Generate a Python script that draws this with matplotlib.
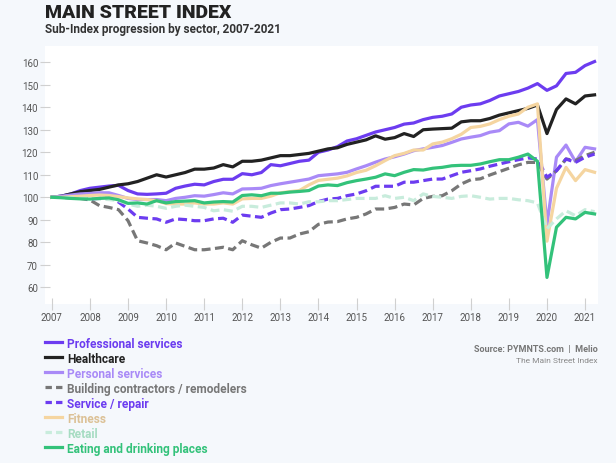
import pandas as pd
import matplotlib
matplotlib.use("Agg")
import matplotlib.pyplot as plt
from matplotlib.lines import Line2D

plt.rcParams['font.family'] = ['Roboto', 'DejaVu Sans']

# quarterly points, 2007 Q1 .. 2021 Q2
quarters = pd.period_range('2007Q1', '2021Q2', freq='Q')

professional = [100, 100.5, 101.5, 103, 104, 104.5, 105, 105.3, 103, 101.5, 101.3, 101.5,
                101.8, 104, 105, 105.8, 105.5, 107, 108, 108, 110.5, 110, 111, 114.5,
                114, 115, 116, 116.5, 120, 121, 122.5, 125, 126, 127.5, 129, 130,
                131, 132.5, 133, 134.5, 135.5, 136, 137, 140, 141, 141.5, 143, 145,
                146, 147, 148.5, 150.5, 147.5, 149.5, 155, 155.5, 158.5, 160.3]
healthcare = [100, 100.5, 101.5, 102.5, 103, 103.5, 104.5, 105.5, 106, 107, 108.5, 110,
              109, 110, 111, 112.5, 112.5, 113, 114.5, 113.5, 116, 116, 116.5, 117.5,
              118.5, 118.5, 119, 119.5, 120.5, 121.5, 122, 123.5, 124.5, 125.5, 127.3, 125.8,
              126.5, 128.3, 127, 130, 130.3, 130.5, 130.7, 133.5, 134, 134, 135, 136.5,
              137.5, 138.5, 139.5, 141, 128.3, 139, 143.7, 141.5, 145, 145.5]
personal = [100, 100.5, 101, 101.5, 101.7, 102, 102, 100.8, 99.5, 99, 99, 99,
            98.5, 99.5, 100, 100.7, 100.5, 101.2, 102, 101.5, 103.7, 103.8, 104, 105.2,
            106, 106.7, 107.4, 108.1, 109.6, 110, 110.4, 111.1, 112.6, 114, 115.6, 117,
            118, 119.2, 120.7, 121.5, 122.2, 123, 124.4, 125.9, 126.7, 127.4, 128.9, 129.6,
            132.6, 133.3, 131.6, 134.5, 88, 117.8, 123.2, 115.8, 122.2, 121.5]
building = [100, 100, 99.7, 99.5, 98.8, 96.3, 95.5, 94.5, 89.6, 80.7, 79.7, 78.5,
            76.7, 79.7, 78.2, 76.7, 76.7, 77.2, 77.8, 76.7, 80.7, 78.9, 77.4, 80,
            81.9, 81.9, 83.7, 84.7, 88, 89, 89.2, 90.4, 91.1, 92.6, 94.8, 94.8,
            95.5, 97, 96.6, 99.5, 100.4, 100.7, 102.9, 105.9, 107.8, 108.2, 109.9, 111.4,
            112.9, 114.4, 115.5, 115.5, 108.1, 111.8, 117, 116.3, 118.5, 120]
service = [100, 100, 100, 99.7, 99.2, 99.5, 100, 97.9, 94.8, 91.1, 90.7, 90.4,
           88.9, 90.4, 90.1, 89.6, 89.6, 90.4, 90.7, 88.9, 92.1, 91.6, 91.1, 93,
           94.5, 94.8, 95.5, 96.3, 98.1, 99.2, 99.5, 100.7, 101.5, 102.9, 104.9, 104.9,
           104.9, 106.7, 106.7, 107.4, 108.1, 108.1, 109.6, 111.1, 111.8, 112.6, 113.8, 114.8,
           115.8, 116.7, 117.5, 117, 108.9, 111.8, 117, 115.5, 117.8, 119.2]
fitness = [100, 100, 100.3, 100.5, 100.8, 101, 100.8, 100.3, 99.7, 99.3, 99, 98.5,
           97.2, 97, 97, 97.5, 97, 97, 97.5, 97, 99.3, 99.5, 99.5, 100.5,
           102, 102.5, 103, 105.5, 107.5, 108, 108.5, 109.5, 111, 112, 114, 116.3,
           118.5, 119.5, 121, 121, 123.7, 124.5, 126, 128, 131, 131.5, 132.6, 134.5,
           136, 137, 140, 141.5, 80.5, 104, 113.3, 107.4, 112.3, 111.1]
retail = [100, 100, 99.8, 99.5, 99.5, 99.2, 99, 98.5, 97, 96, 96.5, 96,
          95.1, 96, 96.5, 96, 95.5, 94, 94.5, 93.8, 96, 96, 95.5, 96.5,
          97.5, 97.5, 97, 98, 98, 98.5, 98.5, 99, 99.5, 99.5, 99.5, 100.7,
          99.5, 100, 98.5, 101.5, 100.4, 100, 99.5, 100.4, 100.7, 100, 99.2, 99.5,
          99.5, 98.9, 98.5, 97.5, 86, 90.4, 94, 91.8, 94.5, 93.6]
eating = [100, 99.8, 99.5, 99.3, 99.2, 99.5, 99.7, 98.9, 97.3, 97.5, 97, 98.5,
          97.5, 98.1, 98.3, 98.5, 97.5, 97.9, 98.1, 97.9, 100.8, 101.1, 100.7, 101.8,
          101.8, 102.3, 102.6, 103, 105, 105.5, 105.2, 106.5, 107.4, 108.1, 108.9, 110.4,
          109.6, 111.1, 112.3, 112.1, 112.9, 113.3, 114, 114.2, 114.2, 114.8, 115.8, 116.7,
          116.7, 117.8, 119.2, 116, 64.4, 86.7, 91.1, 90.4, 93.3, 92.6]

series = [
    ("Professional services", professional, '#6c3cf0', '-', '#6c3cf0'),
    ("Healthcare", healthcare, '#222222', '-', '#222222'),
    ("Personal services", personal, '#a98af7', '-', '#a98af7'),
    ("Building contractors / remodelers", building, '#777777', '--', '#777777'),
    ("Service / repair", service, '#6c3cf0', '--', '#6c3cf0'),
    ("Fitness", fitness, '#f5d5a0', '-', '#dcc196'),
    ("Retail", retail, '#c8ecdc', '--', '#a6dcc2'),
    ("Eating and drinking places", eating, '#33c27a', '-', '#33c27a'),
]

x = quarters.year + (quarters.quarter - 1) / 4

fig = plt.figure(figsize=(6.16, 4.64), dpi=100, facecolor='#f5f8fc')
ax = fig.add_axes([45/616, 1 - 305/464, (598 - 45)/616, (305 - 47)/464])
ax.set_facecolor('white')

for name, vals, col, ls, tcol in series:
    dash = (0, (2.8, 1.4)) if ls == '--' else '-'
    ax.plot(x, vals, color=col, lw=2.3, linestyle=dash, label=name)

ax.set_xlim(2006.82, 2021.34)
ax.set_ylim(52.6, 167.2)
ax.set_xticks(range(2007, 2022))
ax.set_yticks(range(60, 170, 10))
for s in ax.spines.values():
    s.set_visible(False)
ax.tick_params(axis='x', direction='inout', length=8, color='#d0d0d0', labelsize=7, labelcolor='#555555', pad=2)
ax.tick_params(axis='y', direction='inout', length=7, color='#d0d0d0', labelsize=7, labelcolor='#555555', pad=1.5)

fig.text(45/616, 1 - 12.5/464, "MAIN STREET INDEX", fontsize=14, fontweight='heavy',
         color='#222222', va='center')
fig.text(45/616, 1 - 29/464, "Sub-Index progression by sector, 2007-2021", fontsize=8.5,
         fontweight='bold', color='#333333', va='center')

# legend drawn by hand below the plot, 15 px per row
for i, (name, vals, col, ls, tcol) in enumerate(series):
    yy = 1 - (342.7 + 15 * i) / 464
    dash = (0, (2.0, 1.3)) if ls == '--' else '-'
    fig.add_artist(Line2D([45/616, 62/616], [yy, yy], transform=fig.transFigure,
                          color=col, lw=2.3, linestyle=dash))
    fig.text(67/616, yy, name, color=tcol, fontsize=8.6, fontweight='bold', va='center_baseline')

fig.text(598/616, 1 - 350/464, "Source: PYMNTS.com  |  Melio", ha='right', va='center',
         fontsize=6.5, fontweight='bold', color='#777777')
fig.text(598/616, 1 - 361/464, "The Main Street Index", ha='right', va='center',
         fontsize=6, color='#888888')

fig.savefig("out.png", dpi=100, facecolor=fig.get_facecolor())
